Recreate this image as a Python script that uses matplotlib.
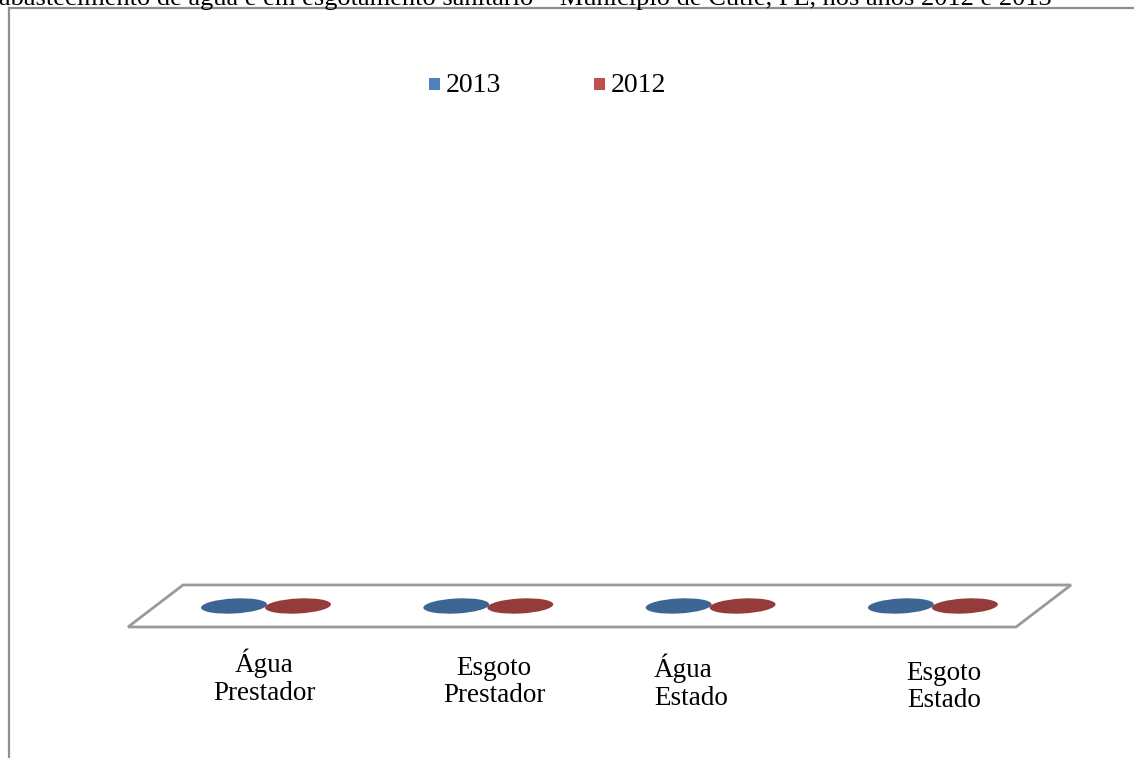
"""
Gráfico de cilindros 3D (valores nulos) - Água/Esgoto, Prestador/Estado, 2012 e 2013
"""

import matplotlib
matplotlib.use('Agg')
import matplotlib.pyplot as plt
from matplotlib.patches import Ellipse, Polygon, Rectangle

plt.rcParams['font.family'] = ['Liberation Serif', 'DejaVu Serif']

# ------------- dados -------------
categorias = ['Água\nPrestador', 'Esgoto\nPrestador', 'Água\nEstado', 'Esgoto\nEstado']
series = ['2013', '2012']
valores_2013 = [0, 0, 0, 0]
valores_2012 = [0, 0, 0, 0]
titulo = ('abastecimento de água e em esgotamento sanitário – Município de Cutle, PE, '
          'nos anos 2012 e 2013')

cores_legenda = ['#4F81BD', '#C0504D']
cores_topo = ['#3D6594', '#953B39']

# figura em "pixels"
W, H = 1134, 758
fig = plt.figure(figsize=(W / 100, H / 100), dpi=100)
ax = fig.add_axes([0, 0, 1, 1])
ax.set_xlim(0, W)
ax.set_ylim(H, 0)
ax.axis('off')

# moldura (só esquerda e topo aparecem)
ax.plot([9, 9, W], [H, 8, 8], color='#8f8f8f', lw=1.6, solid_joinstyle='miter')

# título cortado no topo
fig.text(-0.001, 1 - 5 / H, titulo, fontsize=19, va='baseline', ha='left')

# chão 3D (paralelogramo)
x_ini, x_fim = 128, 1016
y_frente, y_fundo = 627, 585
desloc = 55
chao = Polygon([(x_ini, y_frente), (x_ini + desloc, y_fundo), (x_fim + desloc, y_fundo),
                (x_fim, y_frente)], closed=True, fc='white', ec='#9a9a9a', lw=2)
ax.add_patch(chao)

# cilindros
passo = 222.3
x0 = 266
y_base = 606
esc = 5.0          # px por unidade
larg, alt = 66, 15
for j, vals in enumerate([valores_2013, valores_2012]):
    for i, v in enumerate(vals):
        xc = x0 + i * passo + (j - 0.5) * 64
        h = v * esc
        if h > 0:
            ax.add_patch(Rectangle((xc - larg / 2, y_base - h), larg, h,
                                   fc=cores_topo[j], ec='none', zorder=3))
            ax.add_patch(Ellipse((xc, y_base), larg, alt, angle=-3,
                                 fc=cores_topo[j], ec='none', zorder=3))
        ax.add_patch(Ellipse((xc, y_base - h), larg, alt, angle=-3,
                             fc=cores_topo[j], ec='none', zorder=4 + j))

# rótulos das categorias
dx = [-2, 6, 0, 11]
dy = [0, 5, 5, 10]
for i, cat in enumerate(categorias):
    xc = x0 + i * passo + dx[i]
    if i == 2:
        ax.text(654, 677 + dy[i], cat, fontsize=19.5, ha='left', va='center',
                multialignment='left', linespacing=1.15)
    else:
        ax.text(xc, 677 + dy[i], cat, fontsize=19.5, ha='center', va='center',
                multialignment='center', linespacing=1.15)

# legenda (desenhada à mão)
for k, (nome, cor) in enumerate(zip(series, cores_legenda)):
    xq = 429 + k * 165
    ax.add_patch(Rectangle((xq, 78), 11, 12, fc=cor, ec='none'))
    ax.text(xq + 17, 85, nome, fontsize=20, ha='left', va='center')

fig.savefig('out.png', dpi=100)
